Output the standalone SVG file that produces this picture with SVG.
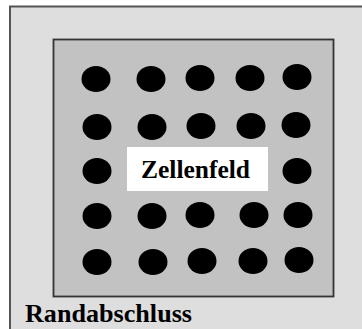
<svg xmlns="http://www.w3.org/2000/svg" width="362" height="329" viewBox="0 0 362 329">
<style>
.dot{fill:#000}
.lbl{font-family:"Liberation Serif","Times New Roman",serif;font-weight:bold;fill:#000}
</style>
<rect width="362" height="329" fill="#ffffff"/>
<g id="randabschluss">
<rect x="10" y="6.5" width="360" height="330" fill="#dedede" stroke="#555" stroke-width="2"/>
<text class="lbl" x="25" y="322" font-size="26" textLength="167" lengthAdjust="spacingAndGlyphs">Randabschluss</text>
</g>
<g id="zellenfeld">
<rect x="53.5" y="39.5" width="280" height="257" fill="#c2c2c2" stroke="#333" stroke-width="1.8"/>
<g id="dots">
<ellipse class="dot" cx="96" cy="79" rx="14.5" ry="13"/>
<ellipse class="dot" cx="151" cy="79" rx="14.5" ry="13"/>
<ellipse class="dot" cx="200" cy="78" rx="14.5" ry="13"/>
<ellipse class="dot" cx="250" cy="78" rx="14.5" ry="13"/>
<ellipse class="dot" cx="297" cy="77" rx="14.5" ry="13"/>
<ellipse class="dot" cx="97" cy="127" rx="14.5" ry="13"/>
<ellipse class="dot" cx="152" cy="127" rx="14.5" ry="13"/>
<ellipse class="dot" cx="201" cy="126" rx="14.5" ry="13"/>
<ellipse class="dot" cx="251" cy="126" rx="14.5" ry="13"/>
<ellipse class="dot" cx="296" cy="125" rx="14.5" ry="13"/>
<ellipse class="dot" cx="97" cy="171" rx="14.5" ry="13"/>
<ellipse class="dot" cx="297" cy="171" rx="14.5" ry="13"/>
<ellipse class="dot" cx="97" cy="216" rx="14.5" ry="13"/>
<ellipse class="dot" cx="152" cy="216" rx="14.5" ry="13"/>
<ellipse class="dot" cx="200" cy="215" rx="14.5" ry="13"/>
<ellipse class="dot" cx="254" cy="215" rx="14.5" ry="13"/>
<ellipse class="dot" cx="298" cy="215" rx="14.5" ry="13"/>
<ellipse class="dot" cx="97" cy="262" rx="14.5" ry="13"/>
<ellipse class="dot" cx="153" cy="262" rx="14.5" ry="13"/>
<ellipse class="dot" cx="202" cy="261" rx="14.5" ry="13"/>
<ellipse class="dot" cx="253" cy="261" rx="14.5" ry="13"/>
<ellipse class="dot" cx="299" cy="260" rx="14.5" ry="13"/>
</g>
</g>
<g id="label-zellenfeld">
<rect x="127" y="147" width="141" height="44" fill="#fff"/>
<text class="lbl" x="141" y="178" font-size="25" textLength="109" lengthAdjust="spacingAndGlyphs">Zellenfeld</text>
</g>
</svg>
